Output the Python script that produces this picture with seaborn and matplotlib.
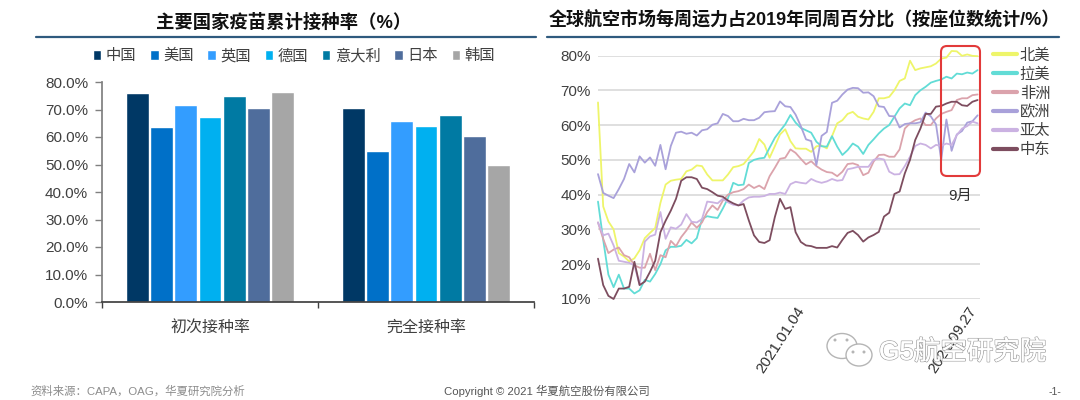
import numpy as np
import pandas as pd
import seaborn as sns
import matplotlib.pyplot as plt
from matplotlib.patches import FancyBboxPatch, Ellipse
from matplotlib.transforms import IdentityTransform
import matplotlib.patheffects as pe

# left chart
countries = ['中国', '美国', '英国', '德国', '意大利', '日本', '韩国']
dose_types = ['初次接种率', '完全接种率']
first_dose = [76, 63.7, 71.5, 67.3, 74.8, 70.7, 76.5]
full_dose = [70.7, 54.8, 65.8, 64, 68, 60.2, 50]
bar_colors = ['#003865', '#0070c8', '#339dff', '#00b0f0', '#007aa3', '#4f6d9c', '#a6a6a6']

# right chart, one value per week
north_america = [66.5, 36.6, 32.3, 30, 23.2, 22.2, 20.8, 21.7, 24, 27.5, 29, 30.4, 37.6, 42.9, 44, 44.3, 44.5, 46.7, 47.2,
                 48.4, 48.2, 45.8, 44.1, 44.1, 44.1, 45.8, 47.9, 48.2, 48.8, 50.6, 52.5, 56, 54.4, 50.6, 53.9, 57.3, 58.8,
                 55.4, 53.3, 53.2, 53.2, 52.3, 53.9, 54.1, 53.3, 56.8, 60.5, 61.4, 63.2, 63.8, 62.4, 61.9, 61.6, 63.8, 67.7,
                 67.7, 68.1, 70, 72.7, 73.4, 78.5, 75.8, 76.3, 76.6, 76.9, 77.7, 79.1, 79.4, 81.3, 81.2, 79.9, 80.3, 79.9, 79.8]
latin_america = [38, 27, 17, 13.4, 17, 13, 13, 11.6, 12.5, 15.5, 15, 17.2, 20, 24, 25, 25, 25.3, 27, 26, 27.5, 33, 33.8, 33.5,
                 33.3, 36, 39, 43.4, 42.7, 42.9, 49.1, 50, 50.4, 50.6, 53.5, 56.3, 58.3, 60.2, 62.9, 60.7, 59.2, 58.5, 57.8,
                 55.2, 53.9, 53.8, 56.8, 53.8, 51.4, 52.8, 54.7, 53.8, 51.7, 54.3, 55.9, 57.6, 59, 60, 62.4, 64.8, 66.2, 65.7,
                 68.6, 70, 71, 72.2, 72.7, 73.1, 73.9, 73.4, 74.8, 74.6, 75.1, 74.8, 75.8]
africa = [32, 27.3, 23.2, 24.2, 24.8, 22.6, 22, 19.7, 19, 19, 23, 18.3, 22.6, 22, 26.7, 25.2, 27.8, 29.7, 32, 30.5, 32, 35, 36.9,
          35.6, 38.3, 40, 40.7, 41, 41.6, 42.9, 41.9, 42.6, 41.6, 45.3, 47.7, 50.3, 50.6, 53, 52, 50.3, 48.7, 49.6, 48.2, 47.2,
          46.5, 46.3, 45.3, 46.6, 48.8, 49, 48.5, 45.6, 46.3, 49.5, 51.4, 51.5, 50.9, 50.9, 53, 59, 60.5, 61.4, 61.9, 60, 60,
          61.9, 63.2, 63.8, 64.3, 67.2, 67.7, 67.7, 68.6, 68.8]
europe = [45.9, 40.5, 39.7, 39, 41.6, 44.5, 48.8, 46.4, 51, 49.2, 50.7, 48.3, 54.3, 47.3, 54, 57.8, 58.1, 57.5, 57.8, 57, 58.5,
          58.8, 60.1, 60.5, 63.2, 62.6, 61.1, 61.1, 61.8, 61.4, 61.4, 62.1, 63.7, 63.9, 64, 66.8, 65.4, 65.2, 63, 59.7, 55.9,
          55.4, 48.5, 56.9, 58, 66.4, 67, 68.8, 70.2, 70.7, 70.6, 69.3, 69.4, 68.3, 65.4, 65.2, 62.6, 62.5, 59.3, 60.3, 60.5,
          60.5, 60.8, 63.6, 62.5, 60.2, 50, 61.6, 52.6, 57.3, 58.3, 60.7, 61.1, 62.8]
asia_pacific = [32, 28.3, 28.8, 25.4, 21, 20.7, 20.4, 19.7, 14, 26.5, 28, 28.5, 35, 27.3, 30.6, 30.2, 31.4, 34.4, 32.2, 32, 33,
                38, 37.8, 37.5, 38.8, 37.8, 37.1, 36.9, 38.3, 39.2, 39.4, 39.4, 39.6, 40.2, 40.2, 40.6, 40.2, 43, 43.7, 43.4,
                43.2, 44.5, 43.8, 43.4, 43.8, 44.5, 44, 44.2, 47.3, 47.6, 48, 48, 48, 50, 50.4, 50.1, 46.6, 45.8, 45.9, 48.2,
                50.9, 54, 54.7, 54.3, 53.3, 54.3, 54, 54.7, 54.3, 57.1, 59, 59.7, 61, 60.5]
middle_east = [21.6, 14, 10.9, 10, 13, 13, 13.5, 20.7, 14, 15, 17.8, 21, 29.2, 32.5, 35.4, 38.8, 44, 45, 45, 44.5, 42, 41.6, 40.7,
               39.7, 39.4, 38.3, 37.5, 36.9, 37.3, 32.6, 28.3, 26.4, 26.1, 26.9, 33.5, 38.8, 35.9, 36.4, 29.2, 26.4, 25.4, 25.2,
               24.7, 24.7, 24.7, 25.2, 24.8, 27, 29, 29.6, 28.4, 26.5, 27.7, 28.4, 29.3, 33.7, 34.8, 40.2, 40.9, 46.1, 50, 55.7,
               59, 63.2, 63.2, 65.3, 65.5, 66.2, 66.7, 66.7, 65.7, 65.5, 66.7, 67.2]
regions = ['北美', '拉美', '非洲', '欧洲', '亚太', '中东']
line_colors = ['#eef56a', '#62dcd6', '#dba3ac', '#a9a1da', '#cbb2e2', '#7d4d5f']
date_ticks = [38, 71]
date_labels = ['2021.01.04', '2021.09.27']

sns.set_theme(style='white')
plt.rcParams['font.family'] = ['Liberation Sans', 'Noto Sans CJK SC']
plt.rcParams['axes.unicode_minus'] = False

W, H = 1080, 400
fig = plt.figure(figsize=(W / 100, H / 100), dpi=100)


def px_axes(x0, x1, y0, y1):
    # y0 is the top edge, measured from the top of the image
    return fig.add_axes([x0 / W, 1 - y1 / H, (x1 - x0) / W, (y1 - y0) / H])


def px_text(x, y, s, **kw):
    return fig.text(x / W, 1 - y / H, s, va='center', **kw)


# bars
ax1 = px_axes(102, 534, 82, 302)
df1 = pd.DataFrame({'type': np.repeat(dose_types, len(countries)),
                    'country': countries * 2,
                    'rate': first_dose + full_dose})
sns.barplot(data=df1, x='type', y='rate', hue='country', palette=bar_colors, saturation=1,
            width=0.785, gap=0.06, ax=ax1)
ax1.set_xlim(-0.5, 1.5)
ax1.set_ylim(0, 80)
ax1.set_yticks(np.arange(0, 81, 10))
ax1.set_yticklabels([f'{v}.0%' for v in range(0, 81, 10)], fontsize=11, color='#404040')
ax1.set_xlabel('')
ax1.set_ylabel('')
ax1.set_xticks([0, 1])
ax1.set_xticklabels(dose_types, fontsize=11.5, color='#404040')
ax1.set_xticks([-0.5, 0.5, 1.5], minor=True)
ax1.tick_params(axis='x', which='major', length=0, pad=13)
ax1.tick_params(axis='x', which='minor', length=4, width=1, color='#404040', bottom=True)
ax1.tick_params(axis='y', length=5, width=1, color='#808080', left=True, pad=5)
sns.despine(ax=ax1)
ax1.spines['left'].set_color('#808080')
ax1.spines['bottom'].set_color('#404040')
ax1.legend(loc='center', bbox_to_anchor=(294 / W, 1 - 56 / H), bbox_transform=fig.transFigure, ncol=7, frameon=False,
           fontsize=11, handlelength=0.55, handleheight=0.55, handletextpad=0.3, columnspacing=0.9,
           labelcolor='#404040', borderpad=0)

# lines
ax2 = px_axes(598, 980, 55.5, 299)
df2 = pd.DataFrame({'北美': north_america, '拉美': latin_america, '非洲': africa,
                    '欧洲': europe, '亚太': asia_pacific, '中东': middle_east})
df2['week'] = df2.index
df2 = df2.melt(id_vars='week', var_name='region', value_name='share')
sns.lineplot(data=df2, x='week', y='share', hue='region', hue_order=regions, palette=line_colors,
             linewidth=1.3, clip_on=False, ax=ax2)
ax2.set_xlim(0, 73.46)
ax2.set_ylim(10, 80)
ax2.set_yticks(np.arange(10, 81, 10))
ax2.set_yticklabels([f'{v}%' for v in range(10, 81, 10)], fontsize=11, color='#404040')
ax2.grid(axis='y', color='#dcdcdc', linewidth=1.3)
ax2.set_axisbelow(True)
ax2.set_xlabel('')
ax2.set_ylabel('')
ax2.set_xticks(date_ticks)
ax2.set_xticklabels(date_labels, rotation=57, ha='right', va='top', rotation_mode='anchor',
                    fontsize=11, color='#303030')
ax2.tick_params(axis='x', length=0, pad=4)
ax2.tick_params(axis='y', length=0, pad=5)
sns.despine(ax=ax2, left=True, bottom=True)
leg = ax2.legend(loc='upper left', bbox_to_anchor=(993 / W, 1 - 48.5 / H), bbox_transform=fig.transFigure, frameon=False,
                 fontsize=11, handlelength=1.6, handletextpad=0.15, labelspacing=0.31, labelcolor='#404040', borderpad=0,
                 borderaxespad=0)
for h in leg.get_lines():
    h.set_linewidth(3)

# red box around september, in image pixels
r = 6
box = FancyBboxPatch((941 + r, H - 176 + r), 39 - 2 * r, 130 - 2 * r, boxstyle=f'round,pad={r},rounding_size={r}',
                     fc='none', ec='#e23a3a', lw=1.5, transform=IdentityTransform())
fig.add_artist(box)
px_text(960, 196, '9月', fontsize=11, color='#303030', ha='center')

# titles and rules
px_text(284, 22.5, '主要国家疫苗累计接种率（%）', fontsize=13.2, fontweight='bold', color='#111111', ha='center')
px_text(804, 20, '全球航空市场每周运力占2019年同周百分比（按座位数统计/%）', fontsize=13, fontweight='bold',
        color='#111111', ha='center')
fig.add_artist(plt.Line2D([36 / W, 536 / W], [1 - 37 / H] * 2, color='#2f5a7e', lw=1.6))
fig.add_artist(plt.Line2D([547 / W, 1059 / W], [1 - 37 / H] * 2, color='#2f5a7e', lw=1.6))

# footer
px_text(30, 391, '资料来源：CAPA，OAG，华夏研究院分析', fontsize=8.2, color='#8c8c8c', ha='left')
px_text(444, 391, 'Copyright © 2021 华夏航空股份有限公司', fontsize=8.2, color='#555555', ha='left')
px_text(1055, 392, '-1-', fontsize=7.5, color='#555555', ha='center')

# watermark
wm = px_text(879, 352, 'G5航空研究院', fontsize=19, color='white', ha='left')
wm.set_path_effects([pe.withStroke(linewidth=1.2, foreground='#a8a8a8'), pe.Normal()])
for cx, cy, w, h in [(842, 346, 30, 25), (859, 355, 26, 22)]:
    fig.add_artist(Ellipse((cx, H - cy), w, h, fc='white', ec='#b5b5b5', lw=1, transform=IdentityTransform()))
for cx, cy in [(835, 340), (847, 340), (853, 352), (864, 352)]:
    fig.add_artist(Ellipse((cx, H - cy), 3, 3, fc='#b5b5b5', ec='none', transform=IdentityTransform()))

fig.savefig('out.png', dpi=100)
